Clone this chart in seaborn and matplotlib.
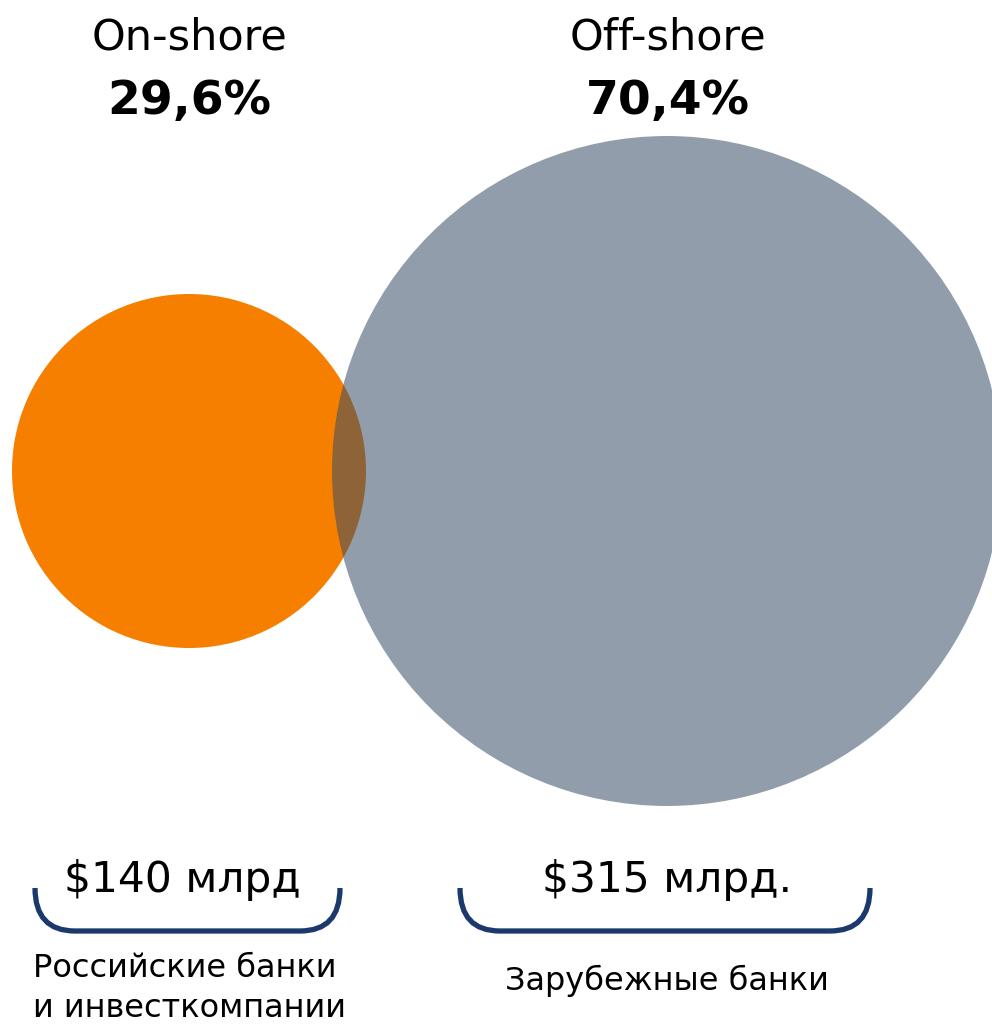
import numpy as np
import pandas as pd
import seaborn as sns
import matplotlib.pyplot as plt
from matplotlib.path import Path
from matplotlib.patches import PathPatch
from matplotlib.colors import to_rgba

# data
segments = ['On-shore', 'Off-shore']
shares = ['29,6%', '70,4%']
amounts = [140, 315]
amount_labels = ['$140 млрд', '$315 млрд.']
holders = ['Российские банки\nи инвесткомпании', 'Зарубежные банки']

orange = '#F77F00'
slate = '#394D67'
navy = '#1B3A6B'

df = pd.DataFrame({'segment': segments, 'amount': amounts, 'row': 0})

sns.set_theme(style='white')
plt.rcParams['font.family'] = ['DejaVu Sans']
plt.rcParams['text.color'] = 'black'

W, H = 992, 1024
fig = plt.figure(figsize=(W / 100, H / 100), dpi=100)

# bubbles
ax = fig.add_axes([0, 0, 1, 1])
sns.scatterplot(data=df, x='segment', y='row', hue='segment', size='amount',
                sizes=(64970, 232700), palette={'On-shore': orange, 'Off-shore': slate},
                linewidth=0, legend=False, ax=ax)
coll = ax.collections[0]
coll.set_facecolors([to_rgba(orange, 1.0), to_rgba(slate, 0.55)])
ax.set_xlim(-189 / 478, (W - 189) / 478)
ax.set_ylim(-553, 471)
ax.axis('off')

# labels and brackets in pixel space
ov = fig.add_axes([0, 0, 1, 1], facecolor='none')
ov.set_xlim(0, W)
ov.set_ylim(H, 0)
ov.axis('off')

centers = [189, 668]
for cx, seg, sh in zip(centers, segments, shares):
    ov.text(cx, 50, seg, ha='center', va='baseline', fontsize=31, color='black')
    ov.text(cx, 114, sh, ha='center', va='baseline', fontsize=34,
            fontweight='bold', color='black')

amount_x = [182, 667]
for cx, lab in zip(amount_x, amount_labels):
    ov.text(cx, 892, lab, ha='center', va='baseline', fontsize=30.5, color='black')


def bracket(x0, x1, ytop=888, ybot=931, r=40):
    verts = [(x0, ytop), (x0, ybot), (x0 + r, ybot),
             (x1 - r, ybot), (x1, ybot), (x1, ytop)]
    codes = [Path.MOVETO, Path.CURVE3, Path.CURVE3,
             Path.LINETO, Path.CURVE3, Path.CURVE3]
    ov.add_patch(PathPatch(Path(verts, codes), fill=False, edgecolor=navy,
                           linewidth=3.8, capstyle='butt'))


bracket(35, 340)
bracket(460, 870)

for i, line in enumerate(holders[0].split('\n')):
    ov.text(33, 977 + 40 * i, line, ha='left', va='baseline', fontsize=23, color='black')
ov.text(667, 990, holders[1], ha='center', va='baseline', fontsize=23, color='black')

fig.savefig('out.png', dpi=100)
